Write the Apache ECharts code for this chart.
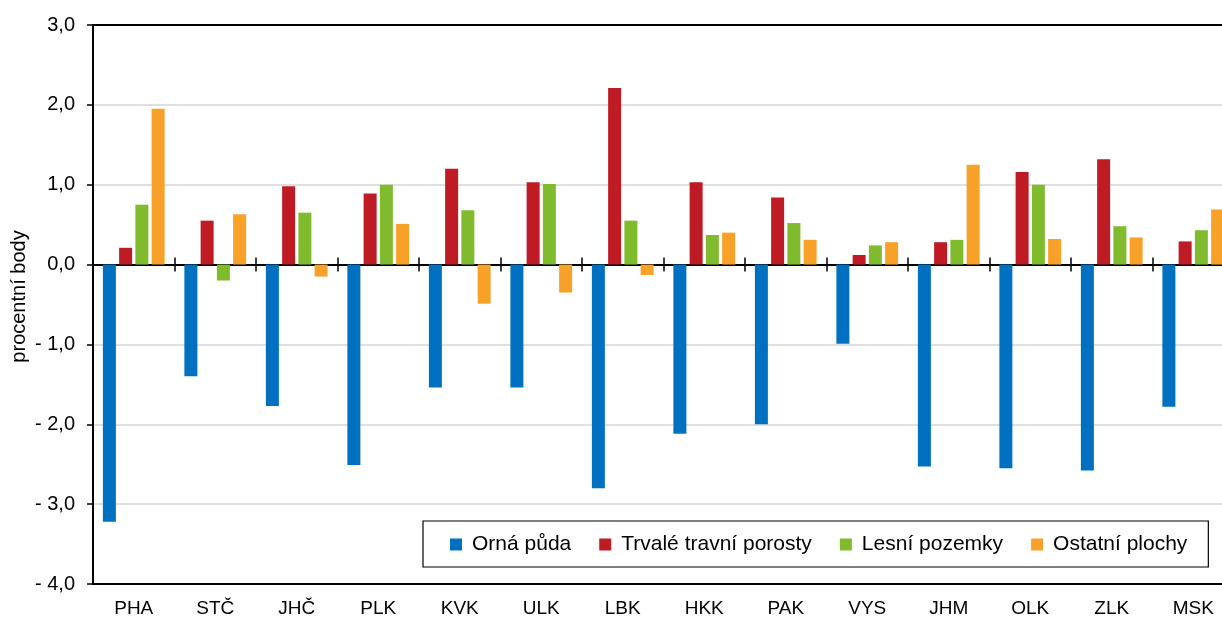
<!DOCTYPE html>
<html>
<head>
<meta charset="utf-8">
<script src="https://cdn.jsdelivr.net/npm/echarts@6/dist/echarts.min.js"></script>
<style>
html,body{margin:0;padding:0;background:#fff;}
#chart{width:1222px;height:619px;}
</style>
</head>
<body>
<div id="chart"></div>
<script>
const categories = ['PHA','STČ','JHČ','PLK','KVK','ULK','LBK','HKK','PAK','VYS','JHM','OLK','ZLK','MSK'];
const ornaPuda = [-3.22,-1.40,-1.77,-2.51,-1.54,-1.54,-2.80,-2.12,-2.00,-0.99,-2.53,-2.55,-2.58,-1.78];
const trvaleTravniPorosty = [0.21,0.55,0.98,0.89,1.20,1.03,2.21,1.03,0.84,0.12,0.28,1.16,1.32,0.29];
const lesniPozemky = [0.75,-0.20,0.65,1.00,0.68,1.01,0.55,0.37,0.52,0.24,0.31,1.00,0.48,0.43];
const ostatniPlochy = [1.95,0.63,-0.15,0.51,-0.49,-0.35,-0.13,0.40,0.31,0.28,1.25,0.32,0.34,0.69];
const seriesNames = ['Orná půda','Trvalé travní porosty','Lesní pozemky','Ostatní plochy'];
const yTicks = {min:-4, max:3, interval:1};

const FONT = 'Arial, "Liberation Sans", sans-serif';
const colors = ['#0070c0','#be1b24','#80bb2d','#f8a128'];
const seriesData = [ornaPuda, trvaleTravniPorosty, lesniPozemky, ostatniPlochy];

const chart = echarts.init(document.getElementById('chart'), null, {renderer:'canvas'});
const axisLineStyle = {color:'#000', width:2};
chart.setOption({
  animation:false,
  backgroundColor:'#fff',
  color:colors,
  grid:{left:93, top:25, bottom:35, right:-12, outerBoundsMode:'none', containLabel:false},
  legend:{
    left:423, top:521,
    data:seriesNames,
    icon:'rect', itemWidth:12, itemHeight:12, itemGap:28,
    padding:[13,21,12,27],
    borderColor:'#000', borderWidth:1.2, backgroundColor:'#fff',
    textStyle:{fontFamily:FONT, fontSize:21, color:'#000', padding:[0,0,0,5]}
  },
  xAxis:[
    {type:'category', data:categories, position:'bottom',
     axisLine:{onZero:false, lineStyle:axisLineStyle},
     axisTick:{show:false},
     axisLabel:{fontFamily:FONT, fontSize:19, color:'#000', margin:15},
     splitLine:{show:false}},
    {type:'category', data:categories, position:'bottom',
     axisLine:{onZero:true, onZeroAxisIndex:0, lineStyle:axisLineStyle},
     axisTick:{show:true, length:7, lineStyle:{color:'#000', width:1.5}},
     axisLabel:{show:false}, splitLine:{show:false}},
    {type:'category', data:categories, position:'top',
     axisLine:{onZero:true, onZeroAxisIndex:0, lineStyle:axisLineStyle},
     axisTick:{show:true, length:7, lineStyle:{color:'#000', width:1.5}},
     axisLabel:{show:false}, splitLine:{show:false}},
    {type:'category', data:categories, position:'top',
     axisLine:{onZero:false, lineStyle:axisLineStyle},
     axisTick:{show:false}, axisLabel:{show:false}, splitLine:{show:false}}
  ],
  yAxis:{
    type:'value', min:yTicks.min, max:yTicks.max, interval:yTicks.interval,
    name:'procentní body', nameLocation:'middle', nameRotate:90, nameGap:64, nameMoveOverlap:false,
    nameTextStyle:{fontFamily:FONT, fontSize:20, color:'#000', padding:[0,0,0,16]},
    axisLine:{show:true, lineStyle:axisLineStyle},
    axisTick:{show:true, length:6, lineStyle:{color:'#000', width:1.5}},
    axisLabel:{fontFamily:FONT, fontSize:20, color:'#000', margin:18,
      formatter:function(v){const s=Math.abs(v).toFixed(1).replace('.',','); return v<0?'- '+s:s;}},
    splitLine:{show:true, lineStyle:{color:'#d4d4d4', width:1.5}}
  },
  series:seriesData.map((d,i)=>({
    name:seriesNames[i], type:'bar', data:d, barWidth:13, barGap:'25%',
    itemStyle:{color:colors[i]}
  }))
});
</script>
</body>
</html>
